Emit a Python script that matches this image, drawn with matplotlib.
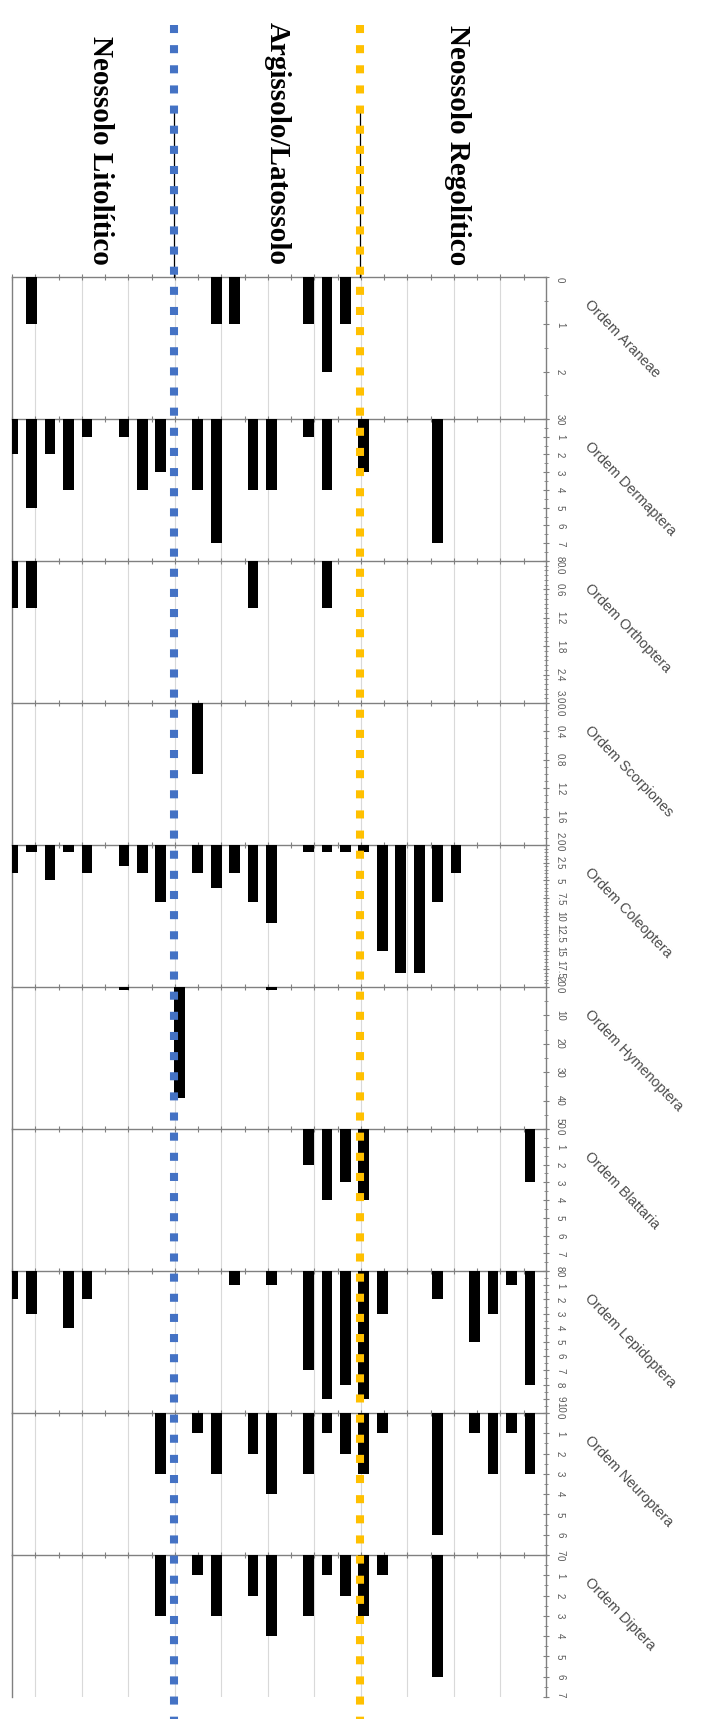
import numpy as np
import matplotlib
matplotlib.use('Agg')
import matplotlib.pyplot as plt

plt.rcParams['font.family'] = ['Liberation Sans', 'DejaVu Sans']

# ---- data ----
sites = np.arange(29)

araneae = np.zeros(29)
araneae[[1, 11, 12, 16, 17, 18]] = [1, 1, 1, 1, 2, 1]

dermaptera = np.zeros(29)
dermaptera[[0, 1, 2, 3, 4, 6, 7, 8, 10, 11, 13, 14, 16, 17, 19, 23]] = \
    [2, 5, 2, 4, 1, 1, 4, 3, 4, 7, 4, 4, 1, 4, 3, 7]

orthoptera = np.zeros(29)
orthoptera[[0, 1, 13, 17]] = [1, 1, 1, 1]

scorpiones = np.zeros(29)
scorpiones[[10]] = [1]

coleoptera = np.zeros(29)
coleoptera[[0, 1, 2, 3, 4, 6, 7, 8, 10, 11, 12, 13, 14, 16, 17, 18, 19, 20, 21, 22, 23, 24]] = \
    [4, 1, 5, 1, 4, 3, 4, 8, 4, 6, 4, 8, 11, 1, 1, 1, 1, 15, 18, 18, 8, 4]

hymenoptera = np.zeros(29)
hymenoptera[[6, 9, 14]] = [1, 39, 1]

blattaria = np.zeros(29)
blattaria[[16, 17, 18, 19, 28]] = [2, 4, 3, 4, 3]

lepidoptera = np.zeros(29)
lepidoptera[[0, 1, 3, 4, 12, 14, 16, 17, 18, 19, 20, 23, 25, 26, 27, 28]] = \
    [2, 3, 4, 2, 1, 1, 7, 9, 8, 9, 3, 2, 5, 3, 1, 8]

neuroptera = np.zeros(29)
neuroptera[[8, 10, 11, 13, 14, 16, 17, 18, 19, 20, 23, 25, 26, 27, 28]] = \
    [3, 1, 3, 2, 4, 3, 1, 2, 3, 1, 6, 1, 3, 1, 3]

diptera = np.zeros(29)
diptera[[8, 10, 11, 13, 14, 16, 17, 18, 19, 20, 23]] = \
    [3, 1, 3, 2, 4, 3, 1, 2, 3, 1, 6]

orders = ['Ordem Araneae', 'Ordem Dermaptera', 'Ordem Orthoptera', 'Ordem Scorpiones',
          'Ordem Coleoptera', 'Ordem Hymenoptera', 'Ordem Blattaria', 'Ordem Lepidoptera',
          'Ordem Neuroptera', 'Ordem Diptera']
values = [araneae, dermaptera, orthoptera, scorpiones, coleoptera,
          hymenoptera, blattaria, lepidoptera, neuroptera, diptera]

# value axis ticks / labels per panel
ticks = [
    [0, 1, 2, 3],
    list(range(0, 9)),
    [0.0, 0.6, 1.2, 1.8, 2.4, 3.0],
    [0.0, 0.4, 0.8, 1.2, 1.6, 2.0],
    [0, 2.5, 5, 7.5, 10, 12.5, 15, 17.5, 20],
    [0, 10, 20, 30, 40, 50],
    list(range(0, 9)),
    list(range(0, 11)),
    list(range(0, 8)),
    list(range(0, 8)),
]
tick_labels = [
    ['0', '1', '2', '3'],
    ['0', '1', '2', '3', '4', '5', '6', '7', '8'],
    ['0.0', '0.6', '1.2', '1.8', '2.4', '3.0'],
    ['0.0', '0.4', '0.8', '1.2', '1.6', '2.0'],
    ['0', '2.5', '5', '7.5', '10', '12.5', '15', '17.5', '20'],
    ['0', '10', '20', '30', '40', '50'],
    ['0', '1', '2', '3', '4', '5', '6', '7', '8'],
    ['0', '1', '2', '3', '4', '5', '6', '7', '8', '9', '10'],
    ['0', '1', '2', '3', '4', '5', '6', '7'],
    ['0', '1', '2', '3', '4', '5', '6', '7'],
]
minor_step = [0.5, 0.5, 0.1, 0.1, 0.5, 5, 0.5, 0.5, 0.5, 0.5]

soils = ['Neossolo Litolítico', 'Argissolo/Latossolo', 'Neossolo Regolítico']

# ---- layout (pixels) ----
W, H = 701, 1719
L, R = 12, 546
top0, ph = 277, 142
xlim = (-0.06, 28.87)
grid_x = 1.2 + 2.52 * np.arange(11)
minor_x = 1.2 - 1.26 + 1.26 * np.arange(23)
bounds = [8.72, 18.82]
line_cols = ['#4472C4', '#FFC000']
axis_col = '#808080'

fig = plt.figure(figsize=(W / 100, H / 100), dpi=100)

for k, (name, vals) in enumerate(zip(orders, values)):
    ax = fig.add_axes([L / W, 1 - (top0 + ph * (k + 1)) / H, (R - L) / W, ph / H])
    ax.bar(sites, vals, width=0.58, color='black', zorder=3)
    ax.set_xlim(*xlim)
    vmax = ticks[k][-1]
    ax.set_ylim(vmax, 0)

    # category axis on top, light vertical grid
    ax.xaxis.tick_top()
    ax.set_xticks(grid_x)
    ax.set_xticks(minor_x, minor=True)
    ax.set_xticklabels([])
    ax.tick_params(axis='x', which='both', direction='inout', length=4,
                   width=0.8, color=axis_col)
    ax.grid(axis='x', color='#d9d9d9', lw=0.8, zorder=0)
    ax.set_axisbelow(True)

    # value axis on the right
    ax.yaxis.tick_right()
    ax.set_yticks(ticks[k])
    ax.set_yticks(np.arange(0, vmax + 1e-9, minor_step[k]), minor=True)
    ax.set_yticklabels(tick_labels[k], rotation=-90, fontsize=7, color='#595959')
    ax.tick_params(axis='y', which='major', direction='inout', length=5,
                   width=0.8, color=axis_col, pad=4)
    ax.tick_params(axis='y', which='minor', direction='inout', length=3,
                   width=0.6, color=axis_col)
    labs = ax.get_yticklabels()
    for j, t in enumerate(labs):
        t.set_ha('left')
        if j == 0:
            t.set_va('top')
        elif j == len(labs) - 1:
            t.set_va('bottom')
        else:
            t.set_va('center')

    for s in ['top', 'left', 'right']:
        ax.spines[s].set_color(axis_col)
        ax.spines[s].set_linewidth(1.0)
    ax.spines['bottom'].set_visible(False)

    # order name, slanted, right of the panel
    top_px = top0 + ph * k
    fig.text(587 / W, 1 - (top_px + 25) / H, name, rotation=-46,
             rotation_mode='anchor', ha='left', va='center',
             fontsize=10.4, color='#4d4d4d')

# overlay for the dotted soil boundaries
ov = fig.add_axes([L / W, 0, (R - L) / W, 1])
ov.set_xlim(*xlim)
ov.set_ylim(H, 0)
ov.axis('off')
ov.patch.set_alpha(0)
for xb, c in zip(bounds, line_cols):
    ov.plot([xb, xb], [110, top0], color='black', lw=0.9, zorder=4)
    ov.plot([xb, xb], [25, H], color=c, lw=5.8, ls=(0, (1, 1.5)),
            dash_capstyle='butt', zorder=5)

# soil group titles
for xs, txt in zip([100, 277, 458], soils):
    fig.text(xs / W, 1 - 265 / H, txt, rotation=-90, ha='center', va='bottom',
             fontsize=21, fontweight='bold', family=['Liberation Serif', 'DejaVu Serif'])

fig.savefig('out.png', dpi=100)
